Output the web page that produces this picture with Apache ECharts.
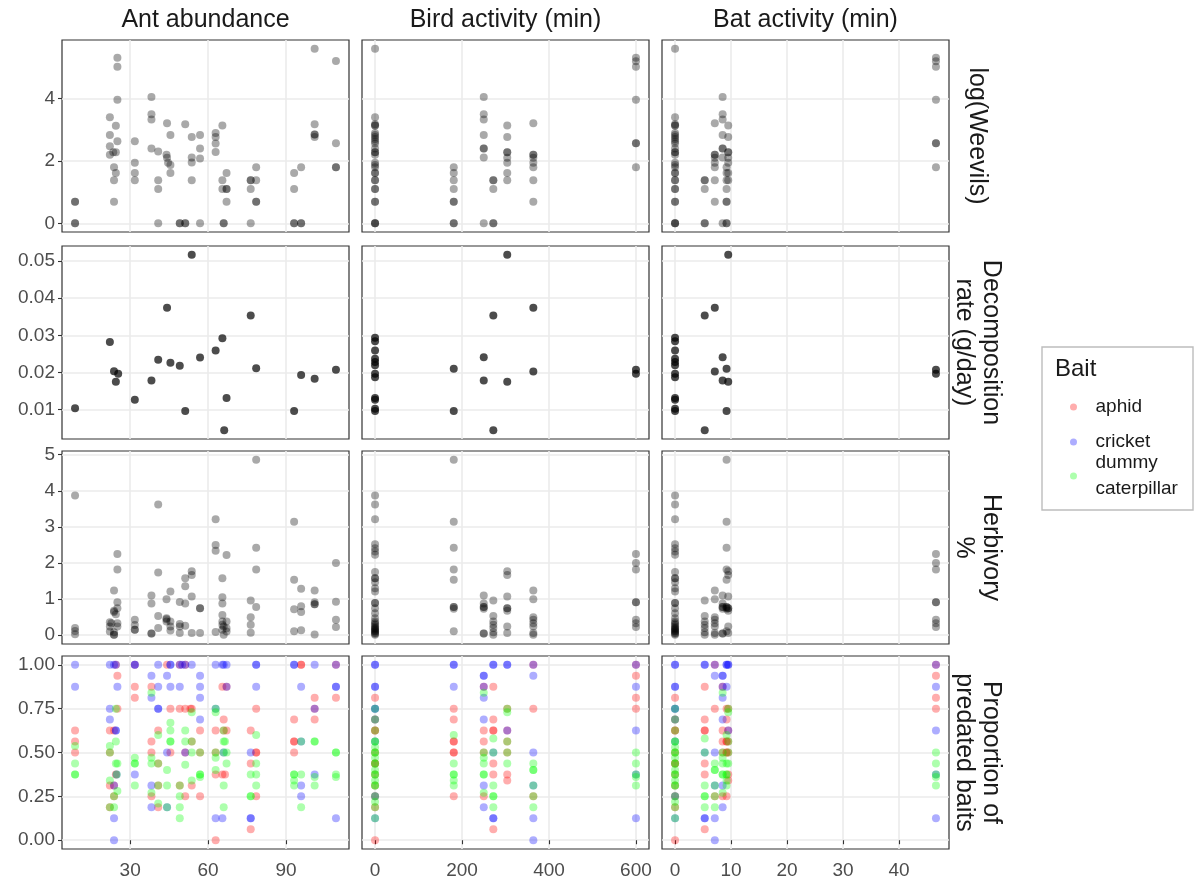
<!DOCTYPE html>
<html><head><meta charset="utf-8">
<script src="https://cdn.jsdelivr.net/npm/echarts@6/dist/echarts.min.js"></script>
<style>html,body{margin:0;padding:0;background:#fff}#c{width:1198px;height:885px}</style>
</head><body><div id="c"></div>
<script>
// ---------- tick labels ----------
const antTicks = [30, 60, 90];
const birdTicks = [0, 200, 400, 600];
const batTicks = [0, 10, 20, 30, 40];
const weevilTicks = [0, 2, 4];
const decompTicks = [0.01, 0.02, 0.03, 0.04, 0.05];
const herbTicks = [0, 1, 2, 3, 4, 5];
const predTicks = [0, 0.25, 0.5, 0.75, 1];

const colTitles = ['Ant abundance', 'Bird activity (min)', 'Bat activity (min)'];
const rowTitles = ['log(Weevils)', 'Decomposition\nrate (g/day)', 'Herbivory\n%', 'Proportion of\npredated baits'];
const baitNames = ['aphid', 'cricket', 'dummy\ncaterpillar'];

// ---------- bird / bat activity per location ----------
const birdLoc = [0, 181, 250, 272, 304, 364, 600];
const batLoc = [0, 9.2, 8.5, 5.3, 9.5, 7.1, 46.6];

// ---------- log(Weevils) ----------
const weevilAnt = [
[8.8,0.69],[8.8,0.69],[8.8,0],[8.8,0],
[22.2,3.40],[22.2,2.83],[22.2,2.47],[22.2,2.2],[23.5,2.28],[24.5,2.28],
[25.1,5.31],[25.1,5.02],[25.1,3.96],[24.5,3.13],[25.1,2.63],[23.8,1.80],[24.5,1.61],[23.8,1.38],[23.8,0.69],
[31.8,2.63],[31.8,1.94],[31.8,1.61],[31.8,1.38],
[38.2,4.05],[38.2,3.5],[38.2,3.33],[38.2,2.4],
[40.8,2.3],[40.8,1.38],[40.8,1.1],[40.8,0],
[44.2,3.21],[44,2.2],[44.2,2.1],[44.6,1.94],[45.5,2.83],[45.5,1.87],[45.5,1.61],
[49.1,0],[49.1,0],[51.2,0],[51.2,0],[51.2,3.18],
[53.7,2.77],[53.7,2.11],[53.7,1.95],[53.7,1.38],
[56.9,2.83],[56.9,2.4],[56.9,2.08],[56.9,0],
[62.9,2.9],[62.9,2.77],[62.9,2.56],[62.9,2.29],
[65.5,3.14],[65.5,1.38],[65.5,1.1],[66,0],[66,0],
[67.1,1.61],[67.1,1.1],[67.1,1.1],[67.1,0.69],
[76.4,1.38],[76.4,1.38],[76.4,1.1],[76.4,0],
[78.5,1.8],[78.5,1.38],[78.5,0.69],[78.5,0.69],
[93.1,1.61],[93.1,1.1],[93.1,0],[93.1,0],
[95.8,1.8],[95.8,0],[95.8,0],
[101,5.6],[101,3.18],[101,2.85],[101,2.85],[101,2.77],
[109.2,5.21],[109.2,2.57],[109.2,1.8],[109.2,1.8]
];
const weevilByLoc = [
[5.6,3.4,3.18,3.14,3.14,2.9,2.83,2.77,2.7,2.63,2.56,2.4,2.28,2.28,2.2,1.94,1.87,1.8,1.61,1.61,1.38,1.38,1.1,1.1,0.69,0.69,0,0,0],
[1.8,1.61,1.38,1.1,0.69,0.69,0,0],
[4.05,3.5,3.33,2.83,2.4,2.4,2.11,0],
[1.38,1.38,1.1,0,0],
[3.14,2.77,2.28,2.28,2.1,1.94,1.61,1.38],
[3.21,2.2,2.2,2.1,1.94,1.8,1.38,0.69],
[5.31,5.2,5.02,3.96,2.57,2.57,1.8]
];

// ---------- Decomposition rate ----------
const decompAnt = [
[8.8,0.0103],[22.2,0.0282],[23.8,0.0203],[25.4,0.0196],[24.5,0.0175],[31.8,0.0126],[38.2,0.0178],[40.8,0.0234],
[44.2,0.0374],[45.5,0.0226],[49.1,0.0218],[51.2,0.0096],[53.7,0.0517],[56.9,0.0240],[62.9,0.0259],[65.5,0.0292],
[66.2,0.0044],[67.1,0.0131],[76.4,0.0353],[78.5,0.0211],[93.1,0.0096],[95.8,0.0193],[101,0.0183],[109.2,0.0207]
];
const decompByLoc = [
[0.0293,0.0284,0.0259,0.0237,0.0228,0.0219,0.0196,0.0187,0.0131,0.0126,0.0102,0.0096],
[0.0210,0.0096],
[0.0241,0.0178],
[0.0353,0.0044],
[0.0517,0.0175],
[0.0374,0.0202],
[0.0207,0.0196]
];

// ---------- Herbivory % ----------
const herbAnt = [
[8.8,3.87],[8.8,0.2],[8.8,0.12],[8.8,0.03],
[22.2,0.36],[22.2,0.24],[22.2,0.1],[22.8,0.33],
[23.8,1.24],[23.8,0.68],[23.8,0.64],[23.8,0.08],[23.8,0.01],[23.8,0.01],
[25.1,2.25],[25.1,1.82],[25.1,0.91],[25.1,0.75],[25.1,0.33],[25.1,0.24],[24.5,0.58],
[31.8,0.43],[31.8,0.28],[31.8,0.15],[31.8,0.15],
[38.2,1.1],[38.2,0.88],[38.2,0.05],[38.2,0.05],
[40.8,3.62],[40.8,1.74],[40.8,0.53],[40.8,0.2],
[44,1.0],[44,0.47],[44,0.44],[44,0.38],
[45.5,1.21],[45.5,0.38],[45.5,0.24],[45.5,0.13],
[49.1,0.92],[49.1,0.31],[49.1,0.24],[49.1,0.06],
[51.2,1.58],[51.2,1.36],[51.2,0.88],[51.2,0.26],
[53.7,1.77],[53.7,1.67],[53.7,1.07],[53.7,0.06],
[56.9,0.75],[56.9,0.75],[56.9,0.06],
[62.9,3.21],[62.9,2.5],[62.9,2.34],[62.9,0.09],
[65.5,1.58],[65.5,1.05],[65.5,0.88],[65.5,0.56],[65.5,0.38],[65.5,0.29],[65.5,0.15],
[66,0.24],[66,0.01],
[67.1,2.22],[67.1,0.38],[67.1,0.19],[67.1,0.1],
[76.4,0.96],[76.4,0.5],[76.4,0.29],[76.4,0.07],
[78.5,4.86],[78.5,2.42],[78.5,1.82],[78.5,0.78],
[93.1,3.14],[93.1,1.54],[93.1,0.72],[93.1,0.11],
[95.8,1.29],[95.8,0.8],[95.8,0.64],[95.8,0.14],
[101,1.24],[101,0.91],[101,0.86],[101,0.86],[101,0.02],
[109.2,2.0],[109.2,0.93],[109.2,0.43],[109.2,0.23]
];
const herbByLoc = [
[3.87,3.62,3.21,2.52,2.41,2.32,2.23,1.75,1.58,1.58,1.47,1.3,1.21,0.89,0.89,0.75,0.61,0.47,0.38,0.33,0.29,0.24,0.2,0.18,0.15,0.12,0.1,0.06,0.04,0.01],
[4.86,3.14,2.42,1.82,1.54,0.78,0.78,0.73,0.11],
[1.1,0.88,0.78,0.78,0.73,0.05,0.05],
[0.96,0.53,0.38,0.29,0.2,0.08,0.01],
[1.77,1.67,1.07,0.75,0.75,0.68,0.24,0.06],
[1.24,1.0,0.5,0.43,0.33,0.24,0.06,0.01],
[2.25,2.0,1.82,0.91,0.91,0.43,0.33,0.23]
];

// ---------- Proportion of predated baits ----------
const predAntAphid = [
[8.8,0.625],[8.8,0.5625],[8.8,0.5],
[22.2,0.625],[22.2,0.5],[22.2,0.3125],[22.2,0.1875],
[24.5,1],[25.1,0.9375],[25.1,0.75],[23.8,0.625],[24.5,0.375],[23.8,0.3125],[23.8,0.25],
[31.8,1],[31.8,0.875],[31.8,0.8125],
[38.2,0.875],[38.2,0.5625],[38.2,0.5],[38.2,0.25],
[40.8,0.625],[40.8,0.4375],[40.8,0.3125],[40.8,0.1875],
[44.2,1],[45.5,0.75],[45.5,0.5],
[49.1,1],[49.1,0.75],[49.1,0.3125],
[51.2,1],[51.2,0.75],[51.2,0.5],[51.2,0.25],
[53.7,0.75],[53.2,0.75],[53.7,0.5625],[53.7,0.3125],
[56.9,0.625],[56.9,0.5],[56.9,0.25],
[62.9,0.625],[62.9,0.5],[62.9,0.375],[62.9,0],
[65.5,0.875],[67.1,0.875],[66,0.6875],[66,0.625],[67.1,0.625],[65.5,0.375],[66.5,0.375],
[76.4,0.625],[76.4,0.4375],[76.4,0.0625],
[78.5,0.75],[78.5,0.5],[78.5,0.5],[78.5,0.25],
[93.1,0.6875],[93.1,0.5625],[93.1,0.5625],[93.1,0.5],
[95.8,1],[95.8,1],
[101,0.8125],[101,0.75],[101,0.6875],
[109.2,1],[109.2,0.8125]
];
const predAntCricket = [
[8.8,1],[8.8,0.875],
[22.2,1],[22.2,0.75],[22.2,0.6875],
[23.8,1],[24.5,1],[25.1,0.875],[24.5,0.625],[24.5,0.625],[24.8,0.375],[23.8,0.3125],[23.8,0.125],[23.8,0],
[31.8,1],[31.8,1],[31.8,0.375],
[38.2,0.9375],[38.2,0.8125],[38.2,0.3125],[38.2,0.1875],
[40.8,1],[40.8,0.875],[40.8,0.75],[40.8,0.75],
[44.2,0.9375],[44.2,0.5],[44.2,0.1875],
[45.5,1],[45.5,1],[45.5,0.875],
[49.1,1],[49.1,0.875],[50,1],
[51.2,1],[51.2,0.5],
[53.7,1],
[56.9,0.9375],[56.9,0.875],[56.9,0.8125],[56.9,0.6875],
[62.9,1],[62.9,0.75],[62.9,0.125],
[65.5,1],[66,1],[67.1,1],[67.1,0.875],[66,0.5],[65.5,0.125],
[76.4,0.5],[76.4,0.125],[76.4,0.125],
[78.5,1],[78.5,1],[78.5,0.875],
[93.1,1],[93.1,1],
[95.8,0.875],[95.8,0.5625],[95.8,0.3125],[95.8,0.25],
[101,1],[101,0.75],[101,0.375],
[109.2,1],[109.2,0.875],[109.2,0.875],[109.2,0.125]
];
const predAntDummy = [
[8.8,0.5375],[8.8,0.4375],[8.8,0.375],[8.8,0.375],
[22.2,0.5375],[22.2,0.5],[22.2,0.34],[22.2,0.1875],
[24.5,0.75],[24.5,0.5625],[24.5,0.4375],[25.1,0.4375],[24.8,0.375],[25.1,0.28],[23.8,0.25],[23.8,0.1875],
[31.8,0.47],[31.8,0.4375],[31.8,0.4375],[31.8,0.3125],
[38.2,0.84],[38.2,0.47],[38.2,0.4375],[38.2,0.27],
[40.8,0.6],[40.8,0.4375],[40.8,0.3125],[40.8,0.21],
[44.2,0.4],[44.2,0.3125],[44.2,0.1875],
[45.5,0.67],[45.5,0.625],[45.5,0.5625],[45.5,0.5625],
[49.1,0.3125],[49.1,0.25],[49.1,0.1875],[49.1,0.125],
[51.2,0.625],[51.2,0.5625],[51.2,0.43],
[53.7,0.73],[53.7,0.5625],[53.7,0.5],[53.7,0.34],
[56.9,0.5],[56.9,0.375],[56.9,0.375],[56.9,0.36],
[62.9,0.75],[62.9,0.73],[62.9,0.5],[62.9,0.47],[62.9,0.4],
[66,0.625],[66,0.5625],[66.5,0.5625],[66,0.5],[67.1,0.5],[67.1,0.4375],[66,0.3125],[66,0.1875],
[76.4,0.375],[76.4,0.25],[76.4,0.25],
[78.5,0.6],[78.5,0.4375],[78.5,0.375],[78.5,0.3125],
[93.1,0.375],[93.1,0.375],[93.1,0.34],[93.1,0.3125],
[95.8,0.5625],[95.8,0.375],[95.8,0.1875],
[101,0.5625],[101,0.5625],[101,0.36],[101,0.3125],
[109.2,0.5],[109.2,0.5],[109.2,0.375],[109.2,0.36]
];
const predAphidByLoc = [
[0.8125,0.6875,0.625,0.625,0.5,0.4375,0.4375,0.375,0.3125,0.25,0.1875,0],
[0.75,0.6875,0.5625,0.5625,0.5,0.5,0.25],
[0.875,0.625,0.5625,0.5,0.25],
[0.875,0.6875,0.625,0.625,0.4375,0.375,0.0625],
[0.75,0.625,0.5625,0.5,0.375,0.34],
[1,0.75,0.25],
[1,0.9375,0.8125,0.75]
];
const predCricketByLoc = [
[1,1,0.875,0.875,0.75,0.75,0.6875,0.5625,0.25,0.125],
[1,1,0.875],
[0.9375,0.9375,0.875,0.8125,0.6875,0.3125,0.1875],
[1,1,0.5,0.125,0.125],
[1,1,0.625],
[1,0.9375,0.5,0.3125,0.125,0],
[1,0.875,0.625,0.375,0.125]
];
const predDummyByLoc = [
[0.75,0.6875,0.625,0.5625,0.5625,0.53,0.5,0.5,0.47,0.4375,0.4375,0.4,0.375,0.375,0.34,0.3125,0.3125,0.25,0.22,0.1875,0.125],
[0.6,0.4375,0.375,0.375,0.34,0.3125],
[0.84,0.5,0.47,0.4375,0.375,0.375,0.27],
[0.58,0.5,0.3125,0.25,0.25,0.1875],
[0.75,0.73,0.5625,0.5,0.4375],
[0.4375,0.4,0.4,0.3125,0.25,0.1875],
[0.5,0.4375,0.375,0.36,0.3125]
];

// ---------- build ----------
const FONT = '"Liberation Sans", Arial, sans-serif';
const locPoints = (xs, groups) => groups.flatMap((vals, i) => vals.map(v => [xs[i], v]));
const ys = arr => arr.map(p => p[1]);
function ext(vals) { const mn = Math.min(...vals), mx = Math.max(...vals), p = (mx - mn) * 0.05; return [mn - p, mx + p]; }

const antAll = [weevilAnt, decompAnt, herbAnt, predAntAphid, predAntCricket, predAntDummy].flat().map(p => p[0]);
const colExt = [ext(antAll), ext(birdLoc), ext(batLoc)];
const colTicks = [antTicks, birdTicks, batTicks];
const rowExt = [
  ext([...ys(weevilAnt), ...weevilByLoc.flat()]),
  ext([...ys(decompAnt), ...decompByLoc.flat()]),
  ext([0, ...ys(herbAnt), ...herbByLoc.flat()]),
  ext([0, 1])
];
const rowTicks = [weevilTicks, decompTicks, herbTicks, predTicks];
const rowFmt = [v => String(v), v => v.toFixed(2), v => String(v), v => v.toFixed(2)];

const colLeft = [62, 362, 662], colW = 287;
const rowTop = [40, 246, 451, 656], rowH = [192, 193, 193, 193];

const grids = [], xAxes = [], yAxes = [];
for (let r = 0; r < 4; r++) {
  for (let c = 0; c < 3; c++) {
    const gi = r * 3 + c;
    grids.push({ left: colLeft[c], top: rowTop[r], width: colW, height: rowH[r], show: true,
      borderColor: '#333333', borderWidth: 1.2, backgroundColor: 'transparent', containLabel: false, outerBoundsMode: 'none' });
    xAxes.push({ type: 'value', gridIndex: gi, min: colExt[c][0], max: colExt[c][1],
      axisLine: { show: false },
      axisTick: { show: r === 3, length: 4, lineStyle: { color: '#333333', width: 1.1 }, customValues: colTicks[c] },
      axisLabel: { show: r === 3, customValues: colTicks[c], color: '#4D4D4D', fontSize: 19, fontFamily: FONT, margin: 12, formatter: v => String(v) },
      splitLine: { show: true, lineStyle: { color: '#EBEBEB', width: 1.6 } } });
    yAxes.push({ type: 'value', gridIndex: gi, min: rowExt[r][0], max: rowExt[r][1],
      axisLine: { show: false },
      axisTick: { show: c === 0, length: 4, lineStyle: { color: '#333333', width: 1.1 }, customValues: rowTicks[r] },
      axisLabel: { show: c === 0, customValues: rowTicks[r], color: '#4D4D4D', fontSize: 19, fontFamily: FONT, margin: 7, formatter: rowFmt[r] },
      splitLine: { show: true, lineStyle: { color: '#EBEBEB', width: 1.6 } } });
  }
}

const series = [];
function addSeries(r, c, data, color, name) {
  series.push({ type: 'scatter', name: name, xAxisIndex: r * 3 + c, yAxisIndex: r * 3 + c, data: data,
    symbol: 'circle', symbolSize: 8, silent: true, itemStyle: { color: color, borderWidth: 0 },
    emphasis: { disabled: true } });
}
const greyRows = [
  { ant: weevilAnt, loc: weevilByLoc, color: 'rgba(0,0,0,0.42)' },
  { ant: decompAnt, loc: decompByLoc, color: 'rgba(0,0,0,0.88)' },
  { ant: herbAnt, loc: herbByLoc, color: 'rgba(0,0,0,0.42)' }
];
greyRows.forEach((d, r) => {
  addSeries(r, 0, d.ant, d.color);
  addSeries(r, 1, locPoints(birdLoc, d.loc), d.color);
  addSeries(r, 2, locPoints(batLoc, d.loc), d.color);
});
const baits = [
  { ant: predAntAphid, loc: predAphidByLoc, color: 'rgba(255,0,0,0.4)' },
  { ant: predAntCricket, loc: predCricketByLoc, color: 'rgba(0,0,255,0.4)' },
  { ant: predAntDummy, loc: predDummyByLoc, color: 'rgba(0,255,0,0.4)' }
];
baits.forEach((b, i) => {
  addSeries(3, 0, b.ant, b.color, baitNames[i]);
  addSeries(3, 1, locPoints(birdLoc, b.loc), b.color, baitNames[i]);
  addSeries(3, 2, locPoints(batLoc, b.loc), b.color, baitNames[i]);
});

const graphics = [];
colTitles.forEach((t, c) => graphics.push({ type: 'text', x: colLeft[c] + colW / 2, y: 20, silent: true,
  style: { text: t, fontSize: 25, fontFamily: FONT, fill: '#1A1A1A', align: 'center', verticalAlign: 'middle', textAlign: 'center', textVerticalAlign: 'middle' } }));
rowTitles.forEach((t, r) => graphics.push({ type: 'text', x: 977, y: rowTop[r] + rowH[r] / 2, rotation: -Math.PI / 2, silent: true,
  style: { text: t, fontSize: 25, lineHeight: 27, fontFamily: FONT, fill: '#1A1A1A', align: 'center', verticalAlign: 'middle', textAlign: 'center', textVerticalAlign: 'middle' } }));
graphics.push({ type: 'rect', silent: true, shape: { x: 1042, y: 347, width: 151, height: 163 },
  style: { fill: 'none', stroke: '#BDBDBD', lineWidth: 1.4 } });
graphics.push({ type: 'text', x: 1055, y: 369, silent: true,
  style: { text: 'Bait', fontSize: 24, fontFamily: FONT, fill: '#1A1A1A', align: 'left', verticalAlign: 'middle', textAlign: 'left', textVerticalAlign: 'middle' } });

const legendBase = { orient: 'vertical', left: 1070, itemWidth: 34, itemHeight: 7, padding: 0, icon: 'circle', selectedMode: false,
  textStyle: { fontSize: 19, lineHeight: 26, color: '#1A1A1A', fontFamily: FONT } };

const chart = echarts.init(document.getElementById('c'), null, { renderer: 'canvas' });
chart.setOption({
  animation: false,
  backgroundColor: '#ffffff',
  textStyle: { fontFamily: FONT },
  grid: grids, xAxis: xAxes, yAxis: yAxes, series: series,
  legend: [
    Object.assign({}, legendBase, { data: [baitNames[0], baitNames[1]], top: 394, itemGap: 9 }),
    Object.assign({}, legendBase, { data: [baitNames[2]], top: 450 })
  ],
  graphic: graphics
});
</script></body></html>
